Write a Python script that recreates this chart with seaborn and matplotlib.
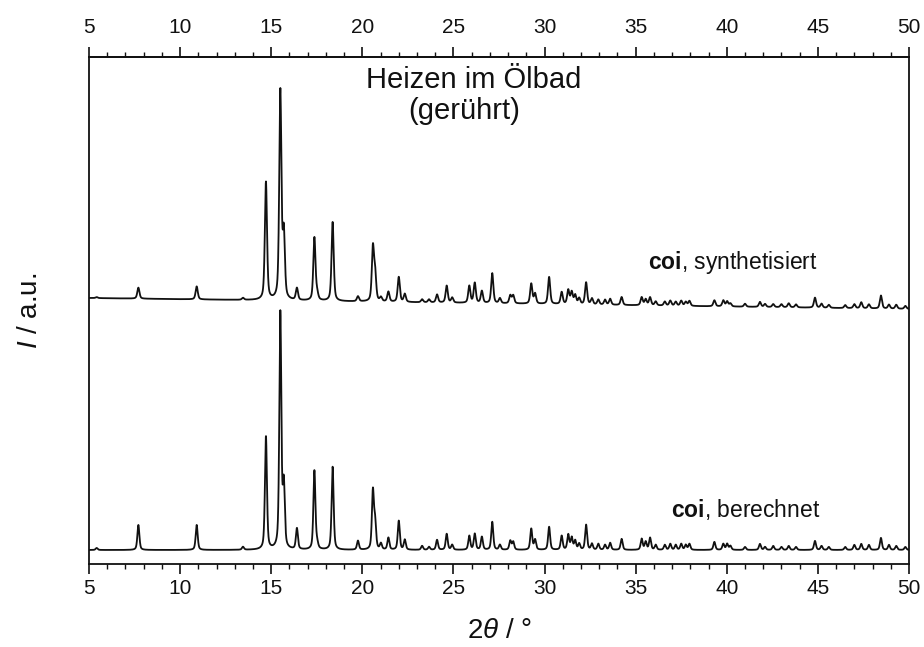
import numpy as np
import pandas as pd
import matplotlib
matplotlib.use("Agg")
import matplotlib.pyplot as plt
from matplotlib.ticker import MultipleLocator
import seaborn as sns

# Reflection positions (2θ / °) shared by both patterns
peak_pos = [5.42, 7.71, 10.91, 13.45, 14.71, 15.50, 15.69, 16.41, 17.37, 17.52,
            18.37, 19.76, 20.58, 20.70, 21.02, 21.43, 22.00, 22.33, 23.28, 23.66,
            24.10, 24.63, 24.93, 25.87, 26.17, 26.56, 27.13, 27.55, 28.12, 28.28,
            29.27, 29.48, 30.25, 30.94, 31.30, 31.49, 31.68, 31.90, 32.28, 32.60,
            32.95, 33.32, 33.60, 34.23, 35.33, 35.55, 35.79, 36.10, 36.60, 36.90,
            37.20, 37.50, 37.75, 37.95, 39.32, 39.81, 40.02, 40.20, 41.00, 41.82,
            42.10, 42.55, 43.00, 43.40, 43.80, 44.84, 45.20, 45.60, 46.50, 47.00,
            47.38, 47.80, 48.46, 48.90, 49.30, 49.80]

# Intensities of the calculated pattern (a.u.)
calc_int = [2, 25, 25, 3, 113, 236, 62, 21, 79, 5,
            83, 9, 58, 26, 6, 12, 29, 10, 4, 3,
            10, 16, 5, 14, 16, 13, 28, 5, 9, 8,
            21, 10, 23, 14, 15, 12, 9, 6, 25, 6,
            6, 5, 7, 11, 11, 8, 12, 5, 5, 6,
            5, 6, 5, 6, 8, 6, 6, 4, 3, 6,
            3, 4, 3, 4, 3, 9, 4, 3, 3, 5,
            6, 5, 12, 5, 4, 3]

# Intensities of the measured (synthesised) pattern (a.u.)
synth_int = [1, 11, 13, 2, 118, 208, 64, 12, 63, 6,
             79, 5, 53, 27, 4, 10, 25, 8, 3, 3,
             8, 17, 5, 17, 20, 12, 30, 5, 8, 8,
             20, 10, 27, 12, 14, 12, 9, 6, 22, 6,
             5, 5, 6, 8, 8, 6, 8, 4, 4, 5,
             4, 5, 4, 5, 6, 6, 5, 3, 3, 5,
             3, 3, 3, 4, 3, 10, 4, 3, 3, 4,
             6, 4, 13, 4, 4, 3]

x_ticks = [5, 10, 15, 20, 25, 30, 35, 40, 45, 50]


def pattern(x, pos, inten, fwhm, eta=0.5):
    """Sum of pseudo-Voigt profiles."""
    y = np.zeros_like(x)
    hw = fwhm / 2.0
    sig = fwhm / (2.0 * np.sqrt(2.0 * np.log(2.0)))
    for p, a in zip(pos, inten):
        d = x - p
        lor = 1.0 / (1.0 + (d / hw) ** 2)
        gau = np.exp(-0.5 * (d / sig) ** 2)
        y += a * (eta * lor + (1 - eta) * gau)
    return y


two_theta = np.arange(5.0, 50.0001, 0.004)
calc = pattern(two_theta, peak_pos, calc_int, 0.13) + 14
background = np.interp(two_theta, [5, 50], [266, 255])
synth = pattern(two_theta, peak_pos, synth_int, 0.14) + background

df = pd.concat([
    pd.DataFrame({"2theta": two_theta, "I": calc, "set": "berechnet"}),
    pd.DataFrame({"2theta": two_theta, "I": synth, "set": "synthetisiert"}),
])

sns.set_theme(style="white")
plt.rcParams["font.family"] = ["Liberation Sans", "DejaVu Sans"]
plt.rcParams["mathtext.fontset"] = "custom"
plt.rcParams["mathtext.rm"] = "Liberation Sans"
plt.rcParams["mathtext.it"] = "Liberation Sans:italic"
plt.rcParams["mathtext.bf"] = "Liberation Sans:bold"

ink = "#111111"
fig = plt.figure(figsize=(9.24, 6.47), dpi=100)
ax = fig.add_axes([89 / 924, 1 - 564 / 647, 820 / 924, 507 / 647])

sns.lineplot(data=df, x="2theta", y="I", units="set", estimator=None,
             color=ink, linewidth=1.3, sort=False, ax=ax)

ax.set_xlim(5, 50)
ax.set_ylim(0, 507)
ax.set_yticks([])
ax.set_xticks(x_ticks)
ax.xaxis.set_minor_locator(MultipleLocator(1))
ax.tick_params(axis="x", which="both", direction="out", bottom=True, top=False,
               labelbottom=True, labeltop=False, color=ink,
               labelsize=15, labelcolor=ink)
ax.tick_params(axis="x", which="major", length=7.5, width=1.2, pad=3)
ax.tick_params(axis="x", which="minor", length=3.5, width=1.0)
for s in ax.spines.values():
    s.set_visible(True)
    s.set_color(ink)
    s.set_linewidth(1.3)

# Mirrored scale along the top edge
top = ax.secondary_xaxis("top")
top.set_xticks(x_ticks)
top.xaxis.set_minor_locator(MultipleLocator(1))
top.tick_params(axis="x", which="both", direction="out", color=ink,
                labelsize=15, labelcolor=ink)
top.tick_params(axis="x", which="major", length=7.5, width=1.2, pad=7)
top.tick_params(axis="x", which="minor", length=3.5, width=1.0)
top.spines["top"].set_linewidth(1.3)
top.spines["top"].set_color(ink)

ax.set_xlabel(r"2$\theta$ / °", fontsize=20, color=ink, labelpad=15)
ax.set_ylabel(r"$I$ / a.u.", fontsize=20, color=ink, labelpad=33)

fig.text(474 / 924, 1 - 80 / 647, "Heizen im Ölbad", ha="center", va="center",
         fontsize=21, color=ink)
fig.text(464 / 924, 1 - 111 / 647, "(gerührt)", ha="center", va="center",
         fontsize=21, color=ink)
fig.text(818 / 924, 1 - 262 / 647, r"$\mathbf{coi}$, synthetisiert",
         ha="right", va="center", fontsize=16.5, color=ink)
fig.text(820 / 924, 1 - 510 / 647, r"$\mathbf{coi}$, berechnet",
         ha="right", va="center", fontsize=16.5, color=ink)

fig.savefig("out.png", dpi=100)
